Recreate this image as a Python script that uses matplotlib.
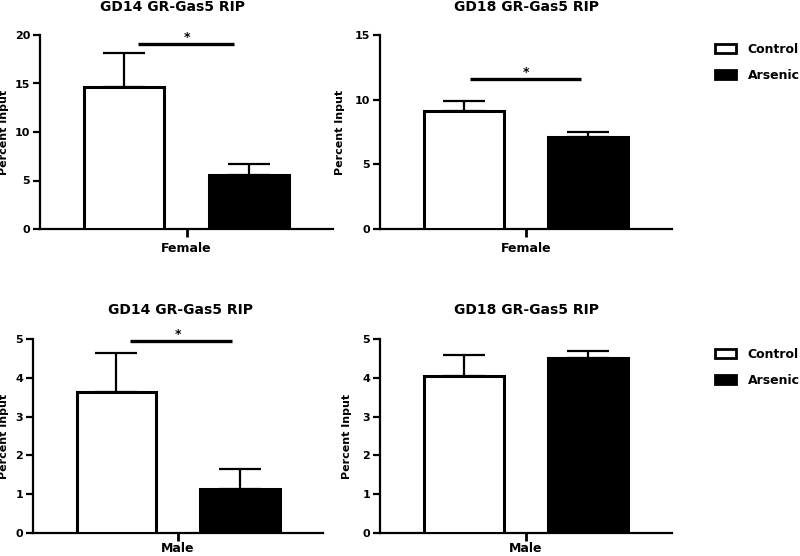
import matplotlib
matplotlib.use("Agg")
import matplotlib.pyplot as plt
from matplotlib.patches import Patch

plt.rcParams['font.family'] = ['DejaVu Sans']
plt.rcParams['font.weight'] = 'bold'

# --- data ---
groups = ["Control", "Arsenic"]
titles = ["GD14 GR-Gas5 RIP", "GD18 GR-Gas5 RIP", "GD14 GR-Gas5 RIP", "GD18 GR-Gas5 RIP"]
sexes = ["Female", "Female", "Male", "Male"]
means = [[14.6, 5.6], [9.15, 7.1], [3.63, 1.13], [4.05, 4.5]]
errs = [[3.5, 1.1], [0.77, 0.38], [1.0, 0.52], [0.55, 0.2]]
ymax = [20, 15, 5, 5]
ystep = [5, 5, 1, 1]
sig_y = [19.1, 11.6, 4.94, None]   # significance bar heights (None = no bar)

# --- layout (pixels) ---
W, H = 800, 556
boxes = [(40, 333, 35, 229), (380, 672, 35, 229),
         (33, 323, 339, 533), (380, 672, 339, 533)]
title_xy = [(173, 7), (526, 7), (180, 310), (526, 310)]
ylab_x = [-0.106, -0.12, -0.083, -0.096]
xlab_pad = [3, 3, 0.5, 0.5]
sig_span = [(-0.50, 0.49), (-0.575, 0.566), (-0.50, 0.56), None]
legend_top = {1: 43, 3: 348}

fig = plt.figure(figsize=(8, 5.56), dpi=100)
pos = [-0.64, 0.64]
colors = ["white", "black"]

for i, (l, r, t, b) in enumerate(boxes):
    ax = fig.add_axes([l / W, 1 - b / H, (r - l) / W, (b - t) / H])
    for j in range(2):
        ax.bar(pos[j], means[i][j], width=0.82, color=colors[j],
               edgecolor="black", linewidth=2.2, zorder=3)
        ax.errorbar(pos[j], means[i][j], yerr=[[0], [errs[i][j]]], color="black",
                    elinewidth=1.6, capsize=15, capthick=1.6, zorder=2)
    if sig_y[i] is not None:
        x0, x1 = sig_span[i]
        ax.plot([x0, x1], [sig_y[i], sig_y[i]], color="black", lw=2.4,
                clip_on=False, solid_capstyle="butt")
        ax.annotate("*", xy=(0, sig_y[i]), xytext=(0, 0), textcoords="offset points",
                    ha="center", va="bottom", fontsize=9, annotation_clip=False)
    ax.set_xlim(-1.5, 1.5)
    ax.set_ylim(0, ymax[i])
    ax.set_yticks(range(0, ymax[i] + 1, ystep[i]))
    ax.set_xticks([0])
    ax.set_xticklabels([sexes[i]], fontsize=9, fontweight='bold')
    for lab in ax.get_yticklabels():
        lab.set_fontweight('bold')
    ax.spines['top'].set_visible(False)
    ax.spines['right'].set_visible(False)
    ax.spines['left'].set_linewidth(1.6)
    ax.spines['bottom'].set_linewidth(1.6)
    ax.tick_params(axis='y', width=1.6, length=5, labelsize=8, pad=2)
    ax.tick_params(axis='x', width=2, length=6, labelsize=9, pad=xlab_pad[i])
    ax.set_ylabel("Percent Input", fontsize=8, fontweight='bold')
    ax.yaxis.set_label_coords(ylab_x[i], 0.5)

    tx, ty = title_xy[i]
    fig.text(tx / W, 1 - ty / H, titles[i], ha="center", va="center",
             fontsize=10, fontweight="bold")

    if i in legend_top:
        handles = [Patch(facecolor=c, edgecolor="black", linewidth=2, label=g)
                   for c, g in zip(colors, groups)]
        fig.legend(handles=handles, loc="upper left",
                   bbox_to_anchor=(715 / W, 1 - legend_top[i] / H),
                   frameon=False, handlelength=1.68, handleheight=0.72,
                   labelspacing=1.05, handletextpad=0.95, borderpad=0,
                   borderaxespad=0, prop={'weight': 'bold', 'size': 9})

fig.savefig("out.png", dpi=100)
